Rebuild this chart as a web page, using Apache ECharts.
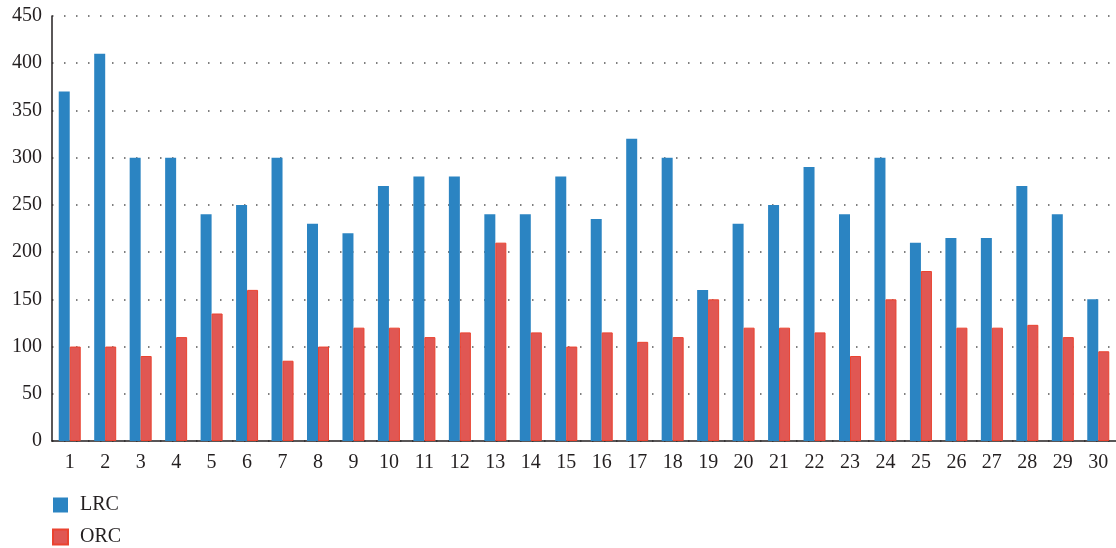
<!DOCTYPE html>
<html><head><meta charset="utf-8">
<script src="https://cdn.jsdelivr.net/npm/echarts@6/dist/echarts.min.js"></script>
<style>html,body{margin:0;padding:0;background:#fff}#c{width:1116px;height:548px}</style>
</head><body><div id="c"></div>
<script>
const categories = ['1','2','3','4','5','6','7','8','9','10','11','12','13','14','15','16','17','18','19','20','21','22','23','24','25','26','27','28','29','30'];
const lrc = [370,410,300,300,240,250,300,230,220,270,280,280,240,240,280,235,320,300,160,230,250,290,240,300,210,215,215,270,240,150];
const orc = [100,100,90,110,135,160,85,100,120,120,110,115,210,115,100,115,105,110,150,120,120,115,90,150,180,120,120,123,110,95];
const yTicks = [0,450,50];

const chart = echarts.init(document.getElementById('c'));
const font = 'Liberation Serif';
chart.setOption({
  animation:false,
  textStyle:{fontFamily:font},
  grid:{left:52,right:0,top:16,bottom:107,containLabel:false},
  legend:{orient:'vertical',left:52,top:494,padding:0,itemWidth:15,itemHeight:15,itemGap:10,
    icon:'rect',textStyle:{fontFamily:font,fontSize:20,lineHeight:22,color:'#231f20',padding:[0,0,0,7]}},
  xAxis:{type:'category',data:categories,
    axisLine:{lineStyle:{color:'#231f20',width:1.5}},axisTick:{show:false},
    axisLabel:{fontFamily:font,fontSize:20,color:'#231f20',margin:12}},
  yAxis:{type:'value',min:yTicks[0],max:yTicks[1],interval:yTicks[2],
    axisLine:{show:true,lineStyle:{color:'#231f20',width:1.5}},axisTick:{show:false},
    axisLabel:{fontFamily:font,fontSize:20,color:'#231f20',margin:10},
    splitLine:{lineStyle:{color:'#555',type:[1.5,10.5],width:1.5}}},
  series:[
    {name:'LRC',type:'bar',data:lrc,barWidth:11,barGap:'0%',
      itemStyle:{color:'#2b84c2'}},
    {name:'ORC',type:'bar',data:orc,barWidth:11,
      itemStyle:{color:'#e05753',borderColor:'#ea4330',borderWidth:1}}
  ]
});
</script></body></html>
